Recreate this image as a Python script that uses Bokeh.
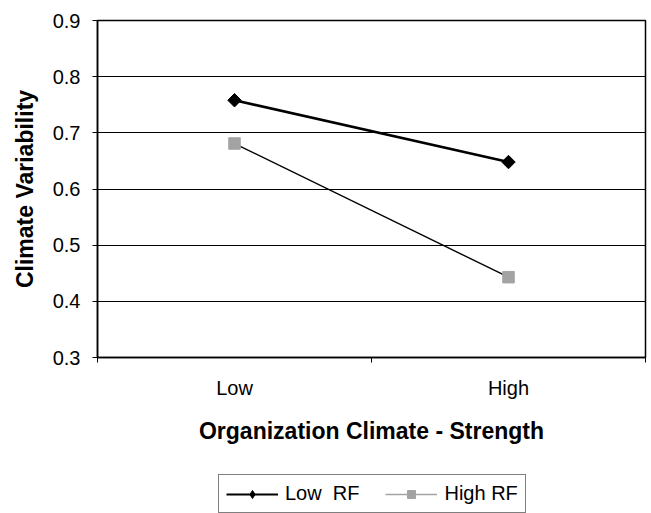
from bokeh.plotting import figure
from bokeh.layouts import column
from bokeh.models import FixedTicker, Legend, LegendItem, ColumnDataSource, Range1d
from bokeh.embed import file_html
from bokeh.resources import INLINE
import numpy as np

# ---- data ----
categories = ["Low", "High"]
low_rf = [0.758, 0.648]
high_rf = [0.681, 0.443]
y_ticks = [0.3, 0.4, 0.5, 0.6, 0.7, 0.8, 0.9]
series_labels = ["Low  RF", "High RF"]

x_pos = [i + 0.5 for i in range(len(categories))]
x_bounds = [float(i) for i in range(len(categories) + 1)]

FONT = "Liberation Sans"
GRAY = "#a3a3a3"

p = figure(width=651, height=450, output_backend="svg", toolbar_location=None,
           x_range=Range1d(0, len(categories)), y_range=Range1d(y_ticks[0], y_ticks[-1]),
           min_border_left=97, min_border_right=6, min_border_top=20, min_border_bottom=93)
p.background_fill_color = "white"
p.border_fill_color = "white"
p.outline_line_color = "black"
p.outline_line_width = 1.5

# y axis
p.yaxis.ticker = FixedTicker(ticks=y_ticks, minor_ticks=[])
p.yaxis.major_label_overrides = {t: f"{t:.1f}" for t in y_ticks}
p.yaxis.major_tick_out = 5
p.yaxis.major_tick_in = 0
p.yaxis.major_tick_line_color = "black"
p.yaxis.axis_line_color = "black"
p.yaxis.axis_line_width = 1.5
p.yaxis.major_label_text_font = FONT
p.yaxis.major_label_text_font_size = "20px"
p.yaxis.major_label_text_color = "black"
p.yaxis.major_label_standoff = 12
p.yaxis.axis_label = "Climate Variability"
p.yaxis.axis_label_text_font = FONT
p.yaxis.axis_label_text_font_size = "23px"
p.yaxis.axis_label_text_font_style = "bold"
p.yaxis.axis_label_text_color = "black"
p.yaxis.axis_label_standoff = 12

# x axis
p.xaxis.ticker = FixedTicker(ticks=x_pos, minor_ticks=x_bounds)
p.xaxis.major_label_overrides = {x: c for x, c in zip(x_pos, categories)}
p.xaxis.major_tick_out = 0
p.xaxis.major_tick_in = 0
p.xaxis.minor_tick_out = 5
p.xaxis.minor_tick_in = 0
p.xaxis.minor_tick_line_color = "black"
p.xaxis.axis_line_color = "black"
p.xaxis.axis_line_width = 1.5
p.xaxis.major_label_text_font = FONT
p.xaxis.major_label_text_font_size = "20px"
p.xaxis.major_label_text_color = "black"
p.xaxis.major_label_standoff = 14
p.xaxis.axis_label = "Organization Climate - Strength"
p.xaxis.axis_label_text_font = FONT
p.xaxis.axis_label_text_font_size = "23px"
p.xaxis.axis_label_text_font_style = "bold"
p.xaxis.axis_label_text_color = "black"
p.xaxis.axis_label_standoff = 16

# grid
p.xgrid.visible = False
p.ygrid.ticker = FixedTicker(ticks=y_ticks, minor_ticks=[])
p.ygrid.grid_line_color = "black"
p.ygrid.grid_line_alpha = 1.0
p.ygrid.grid_line_width = 1

src_low = ColumnDataSource(dict(x=x_pos, y=low_rf))
src_high = ColumnDataSource(dict(x=x_pos, y=high_rf))

# Low RF: thick black line, black diamonds
p.line("x", "y", source=src_low, line_color="black", line_width=2.6)
p.scatter("x", "y", source=src_low, marker="square", angle=np.pi / 4,
          size=9.5, fill_color="black", line_color="black")
# High RF: thin black line, gray squares
p.line("x", "y", source=src_high, line_color="black", line_width=1.4)
p.scatter("x", "y", source=src_high, marker="square", size=11.5,
          fill_color=GRAY, line_color=GRAY)

# ---- legend strip below the chart (the reference legend sits under the axis title) ----
lg = figure(width=651, height=63, output_backend="svg", toolbar_location=None,
            x_range=Range1d(-10, -9), y_range=Range1d(-10, -9),
            x_axis_location=None, y_axis_location=None,
            min_border_left=0, min_border_right=0, min_border_top=0, min_border_bottom=0)
lg.grid.visible = False
lg.outline_line_color = None
lg.background_fill_color = "white"
lg.border_fill_color = "white"

gl1 = lg.line("x", "y", source=src_low, line_color="black", line_width=2.0)
gm1 = lg.scatter("x", "y", source=src_low, marker="diamond", size=14,
                 fill_color="black", line_color="black")
gl2 = lg.line("x", "y", source=src_high, line_color=GRAY, line_width=1.6)
gm2 = lg.scatter("x", "y", source=src_high, marker="square", size=11,
                 fill_color=GRAY, line_color=GRAY)

legend = Legend(items=[LegendItem(label=series_labels[0], renderers=[gl1, gm1]),
                       LegendItem(label=series_labels[1], renderers=[gl2, gm2])],
                orientation="horizontal", location=(121, 0))
legend.label_text_font = FONT
legend.label_text_font_size = "20px"
legend.label_text_color = "black"
legend.glyph_width = 52
legend.glyph_height = 20
legend.label_standoff = 7
legend.spacing = 26
legend.padding = 7
legend.margin = 0
legend.border_line_color = "black"
legend.border_line_width = 1
legend.background_fill_color = "white"
legend.background_fill_alpha = 1
lg.add_layout(legend, "center")

layout = column(p, lg, spacing=0)
open("out.html", "w").write(file_html(layout, INLINE))
